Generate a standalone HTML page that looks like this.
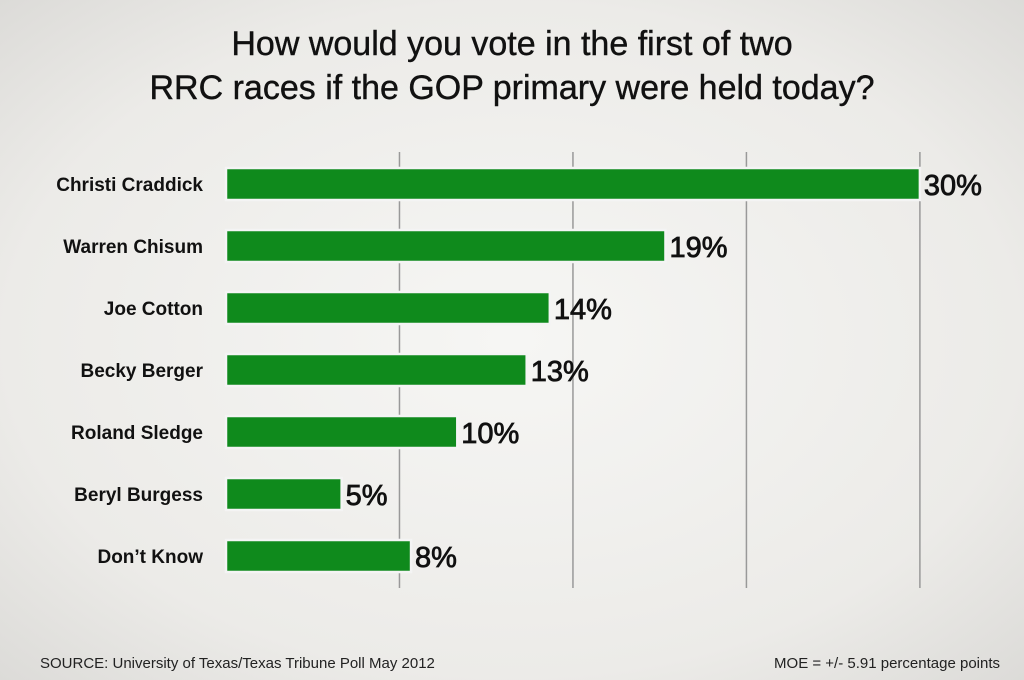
<!DOCTYPE html>
<html><head><meta charset="utf-8"><style>
body{margin:0;width:1024px;height:680px;overflow:hidden;background:#efefed;font-family:"Liberation Sans",sans-serif;}
#wrap{position:relative;width:1024px;height:680px;background:radial-gradient(ellipse at center,#f6f6f4 0%,#ecebe8 70%,#dcdbd8 100%);}
h1{position:absolute;top:22px;left:0;width:1024px;text-align:center;margin:0;font-size:34px;line-height:44px;font-weight:normal;color:#111;-webkit-text-stroke:0.4px #111;}
.foot{position:absolute;top:655px;font-size:15px;color:#222;}
</style></head><body>
<div id="wrap">
<h1>How would you vote in the first of two<br>RRC races if the GOP primary were held today?</h1>
<svg id="chart" width="1024" height="680" style="position:absolute;left:0;top:0"></svg>
<div class="foot" style="left:40px">SOURCE: University of Texas/Texas Tribune Poll May 2012</div>
<div class="foot" style="right:24px">MOE = +/- 5.91 percentage points</div>
</div>
<script>
const categories=["Christi Craddick","Warren Chisum","Joe Cotton","Becky Berger","Roland Sledge","Beryl Burgess","Don\u2019t Know"];
const values=[30,19,14,13,10,5,8];
const gridTicks=[7.5,15,22.5,30];
const NS="http://www.w3.org/2000/svg";
const svg=document.getElementById('chart');
const x0=226,pxPer=23.13;
const x=v=>x0+v*pxPer;
const y=i=>184+i*62;
function mk(t,a){const e=document.createElementNS(NS,t);for(const k in a)e.setAttribute(k,a[k]);svg.appendChild(e);return e;}
gridTicks.forEach(t=>{
 const l=mk('line',{x1:x(t),x2:x(t),y1:152,y2:588,stroke:'#999','stroke-width':1.5});
 
 
});
categories.forEach((c,i)=>{
 const b=mk('rect',{x:x0,y:y(i)-16,width:values[i]*pxPer,height:32,fill:'#0f8a1c',stroke:'#f4f4f4','stroke-width':2.5});
 
 
 const lb=mk('text',{x:203,y:y(i)+7,'text-anchor':'end','font-size':19,'font-weight':'bold',fill:'#111','font-family':'Liberation Sans, sans-serif'});
 lb.textContent=c;
 
 
 const v=mk('text',{x:x(values[i])+4,y:y(i)+11,'font-size':29,fill:'#111',stroke:'#111','stroke-width':0.8,'font-family':'Liberation Sans, sans-serif'});
 v.textContent=values[i]+'%';
 
 
});
</script>
</body></html>
